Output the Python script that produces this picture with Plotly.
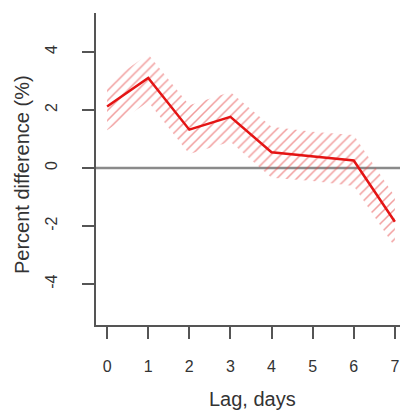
import plotly.graph_objects as go

lag_days = [0, 1, 2, 3, 4, 5, 6, 7]
pct_diff = [2.12, 3.10, 1.32, 1.76, 0.54, 0.40, 0.26, -1.85]
ci_lower = [1.30, 2.28, 0.48, 0.90, -0.34, -0.45, -0.62, -2.72]
ci_upper = [2.92, 3.92, 2.16, 2.62, 1.42, 1.25, 1.14, -0.98]
y_ticks = [-4, -2, 0, 2, 4]
x_ticks = [0, 1, 2, 3, 4, 5, 6, 7]

band_x = lag_days + lag_days[::-1]
band_y = ci_upper + ci_lower[::-1]

fig = go.Figure()
fig.add_trace(go.Scatter(
    x=band_x, y=band_y, fill="toself", mode="none",
    fillcolor="rgba(0,0,0,0)",
    fillpattern=dict(shape="/", size=7, solidity=0.22,
                     fgcolor="rgb(228,60,60)", bgcolor="rgba(0,0,0,0)"),
    hoverinfo="skip", showlegend=False,
))
fig.add_trace(go.Scatter(
    x=lag_days, y=pct_diff, mode="lines",
    line=dict(color="rgb(228,20,20)", width=2.5),
    showlegend=False,
))

fig.add_shape(type="line", xref="paper", x0=0, x1=1, yref="y", y0=0, y1=0,
              line=dict(color="#8a8a8a", width=2.5), layer="below")

axis_font = dict(family="Liberation Sans, Arial, sans-serif", size=16, color="#333")
fig.update_xaxes(
    range=[-0.27, 7.32], tickvals=x_ticks, ticktext=[str(v) for v in x_ticks],
    showline=True, linecolor="#555", linewidth=1.5,
    ticks="outside", ticklen=12, tickwidth=1.5, tickcolor="#555",
    showgrid=False, zeroline=False, tickfont=axis_font, ticklabelstandoff=14,
)
fig.update_yaxes(
    range=[-5.41, 5.34], tickvals=y_ticks, ticktext=[str(v) for v in y_ticks],
    showline=True, linecolor="#555", linewidth=1.5,
    ticks="outside", ticklen=12, tickwidth=1.5, tickcolor="#555",
    showgrid=False, zeroline=False, tickfont=axis_font, tickangle=-90,
    ticklabelstandoff=19,
)

title_font = dict(family="Liberation Sans, Arial, sans-serif", size=20, color="#333")
fig.update_layout(
    width=400, height=406,
    margin=dict(l=88, r=0, t=5, b=89),
    plot_bgcolor="white", paper_bgcolor="white",
    annotations=[
        dict(text="Lag, days", xref="paper", yref="paper", x=0.5, y=-74/312,
             xanchor="center", yanchor="middle", showarrow=False, font=title_font),
        dict(text="Percent difference (%)", xref="paper", yref="paper",
             x=-74/312, y=(325-175)/312, xanchor="center", yanchor="middle",
             textangle=-90, showarrow=False, font=title_font),
    ],
)

fig.write_html("out.html")
